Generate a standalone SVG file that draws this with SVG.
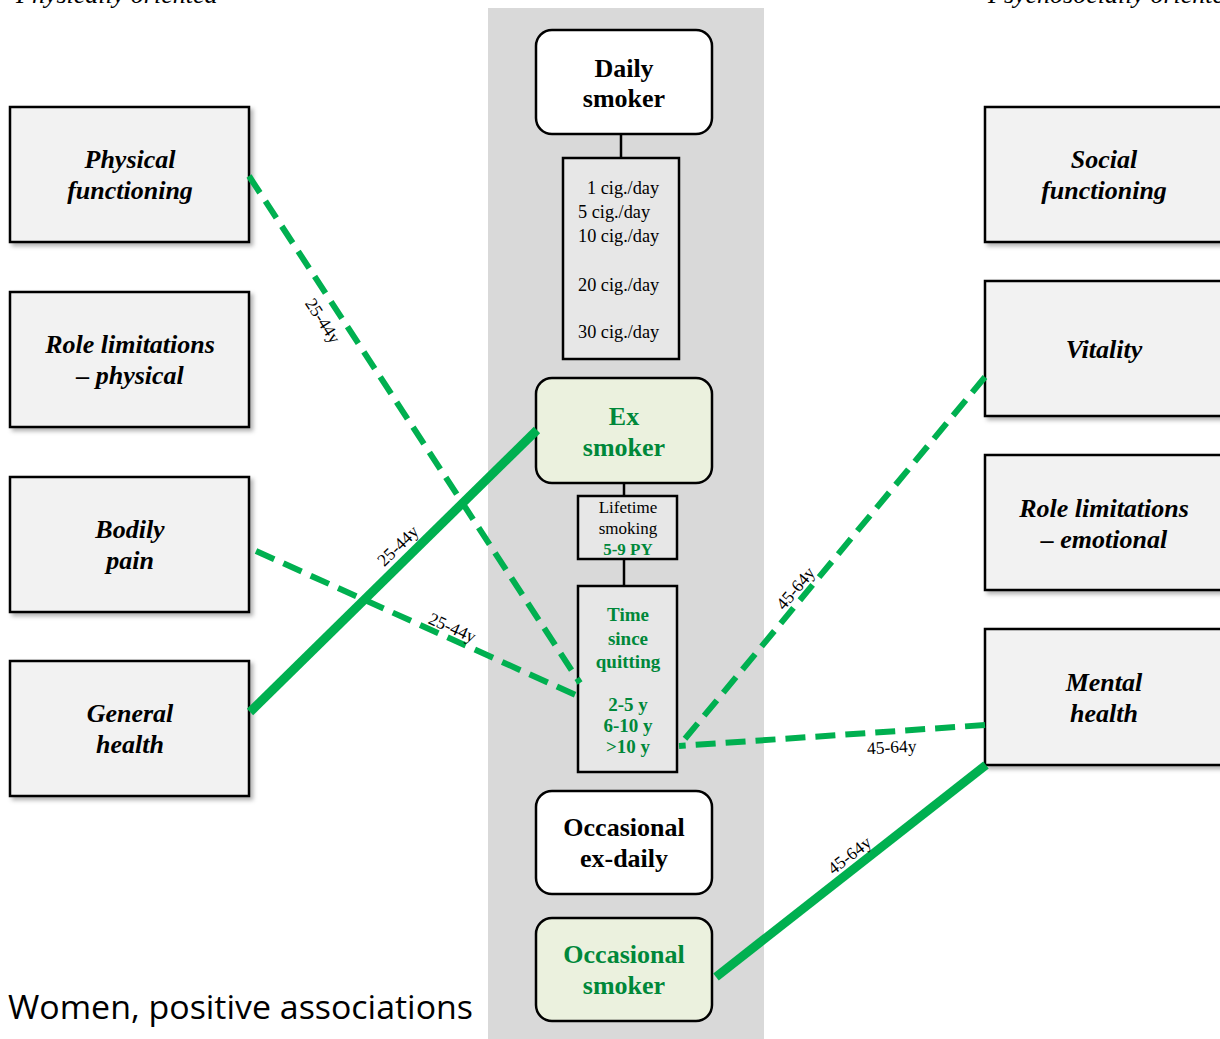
<svg xmlns="http://www.w3.org/2000/svg" width="1220" height="1039" viewBox="0 0 1220 1039">
<style>
.dom{fill:#f2f2f2;stroke:#000;stroke-width:2.5}
.dt{font-family:"Liberation Serif",serif;font-size:26px;font-weight:bold;font-style:italic;text-anchor:middle;fill:#000}
.sm{stroke:#000;stroke-width:2.5}
.white{fill:#fff}
.green{fill:#ebf1de}
.st{font-family:"Liberation Serif",serif;font-size:26px;font-weight:bold;text-anchor:middle;fill:#000}
.gt{fill:#00883a}
.sub{fill:#e7e7e7;stroke:#000;stroke-width:2.5}
.cig{font-family:"Liberation Serif",serif;font-size:18.3px;fill:#000}
.lt{font-family:"Liberation Serif",serif;font-size:17px;text-anchor:middle;fill:#000}
.tq{font-family:"Liberation Serif",serif;font-size:19px;font-weight:bold;text-anchor:middle;fill:#00883a}
.dash{stroke:#00b050;stroke-width:6;stroke-dasharray:20 10;fill:none}
.solid{stroke:#00b050;stroke-width:9;fill:none}
.lab{font-family:"Liberation Serif",serif;font-size:17.5px;text-anchor:middle;fill:#000}
.hdr{font-family:"Liberation Serif",serif;font-size:26px;font-style:italic;fill:#000}
.link{stroke:#000;stroke-width:2.5}
</style>
<defs>
<filter id="sh" x="-10%" y="-10%" width="130%" height="130%">
<feDropShadow dx="3" dy="3" stdDeviation="2" flood-color="#000" flood-opacity="0.3"/>
</filter>
</defs>
<rect width="1220" height="1039" fill="#fff"/>
<rect x="488" y="8" width="276" height="1040" fill="#d9d9d9"/>
<text class="hdr" x="16" y="3">Physically oriented</text>
<text class="hdr" x="988" y="3">Psychosocially oriented</text>

<g id="links">
<line class="link" x1="621" y1="134" x2="621" y2="158"/>
<line class="link" x1="624" y1="483" x2="624" y2="496"/>
<line class="link" x1="624" y1="559" x2="624" y2="586"/>
</g>

<g id="physical-functioning"><rect class="dom" x="10" y="107" width="239" height="135" filter="url(#sh)"/><text class="dt" x="130" y="168">Physical</text><text class="dt" x="130" y="199">functioning</text></g>
<g id="role-physical"><rect class="dom" x="10" y="292" width="239" height="135" filter="url(#sh)"/><text class="dt" x="130" y="353">Role limitations</text><text class="dt" x="130" y="384">– physical</text></g>
<g id="bodily-pain"><rect class="dom" x="10" y="477" width="239" height="135" filter="url(#sh)"/><text class="dt" x="130" y="538">Bodily</text><text class="dt" x="130" y="569">pain</text></g>
<g id="general-health"><rect class="dom" x="10" y="661" width="239" height="135" filter="url(#sh)"/><text class="dt" x="130" y="722">General</text><text class="dt" x="130" y="753">health</text></g>

<g id="social-functioning"><rect class="dom" x="985" y="107" width="250" height="135" filter="url(#sh)"/><text class="dt" x="1104" y="168">Social</text><text class="dt" x="1104" y="199">functioning</text></g>
<g id="vitality"><rect class="dom" x="985" y="281" width="250" height="135" filter="url(#sh)"/><text class="dt" x="1104" y="358">Vitality</text></g>
<g id="role-emotional"><rect class="dom" x="985" y="455" width="250" height="135" filter="url(#sh)"/><text class="dt" x="1104" y="517">Role limitations</text><text class="dt" x="1104" y="548">– emotional</text></g>
<g id="mental-health"><rect class="dom" x="985" y="629" width="250" height="136" filter="url(#sh)"/><text class="dt" x="1104" y="691">Mental</text><text class="dt" x="1104" y="722">health</text></g>

<g id="daily-smoker"><rect class="sm white" x="536" y="30" width="176" height="104" rx="16"/><text class="st" x="624" y="77">Daily</text><text class="st" x="624" y="107">smoker</text></g>
<g id="cig-day"><rect class="sub" x="563" y="158" width="116" height="201"/>
<text class="cig" x="587" y="194">1 cig./day</text>
<text class="cig" x="578" y="218">5 cig./day</text>
<text class="cig" x="578" y="242">10 cig./day</text>
<text class="cig" x="578" y="291">20 cig./day</text>
<text class="cig" x="578" y="338">30 cig./day</text></g>
<g id="ex-smoker"><rect class="sm green" x="536" y="378" width="176" height="105" rx="16"/><text class="st gt" x="624" y="425">Ex</text><text class="st gt" x="624" y="456">smoker</text></g>
<g id="lifetime"><rect class="sub" x="578" y="496" width="99" height="63"/><text class="lt" x="628" y="513">Lifetime</text><text class="lt" x="628" y="534">smoking</text><text class="lt" x="628" y="555" style="font-weight:bold;fill:#00883a">5-9 PY</text></g>
<g id="time-since-quitting"><rect class="sub" x="578" y="586" width="99" height="186"/>
<text class="tq" x="628" y="621">Time</text><text class="tq" x="628" y="645">since</text><text class="tq" x="628" y="668">quitting</text>
<text class="tq" x="628" y="711">2-5 y</text><text class="tq" x="628" y="732">6-10 y</text><text class="tq" x="628" y="753">&gt;10 y</text></g>
<g id="occasional-ex-daily"><rect class="sm white" x="536" y="791" width="176" height="103" rx="16"/><text class="st" x="624" y="836">Occasional</text><text class="st" x="624" y="867">ex-daily</text></g>
<g id="occasional-smoker"><rect class="sm green" x="536" y="918" width="176" height="103" rx="16"/><text class="st gt" x="624" y="963">Occasional</text><text class="st gt" x="624" y="994">smoker</text></g>

<g id="connectors">
<line class="dash" x1="249" y1="176" x2="580" y2="683"/>
<line class="solid" x1="250" y1="712" x2="537" y2="430"/>
<line class="dash" x1="256" y1="551" x2="580" y2="697"/>
<line class="dash" x1="985" y1="377" x2="679" y2="746"/>
<line class="dash" x1="985" y1="725" x2="679" y2="746"/>
<line class="solid" x1="986" y1="765" x2="716" y2="977"/>
<text class="lab" transform="translate(318,324) rotate(57)">25-44y</text>
<text class="lab" transform="translate(402,550) rotate(-44.5)">25-44y</text>
<text class="lab" transform="translate(450,633) rotate(24)">25-44y</text>
<text class="lab" transform="translate(800,592) rotate(-50)">45-64y</text>
<text class="lab" transform="translate(892,753) rotate(-3)">45-64y</text>
<text class="lab" transform="translate(853,860) rotate(-38)">45-64y</text>
</g>

<text x="8" y="1019" font-family="'Open Sans','Liberation Sans',sans-serif" font-size="32" textLength="465" lengthAdjust="spacingAndGlyphs" fill="#000">Women, positive associations</text>
</svg>
